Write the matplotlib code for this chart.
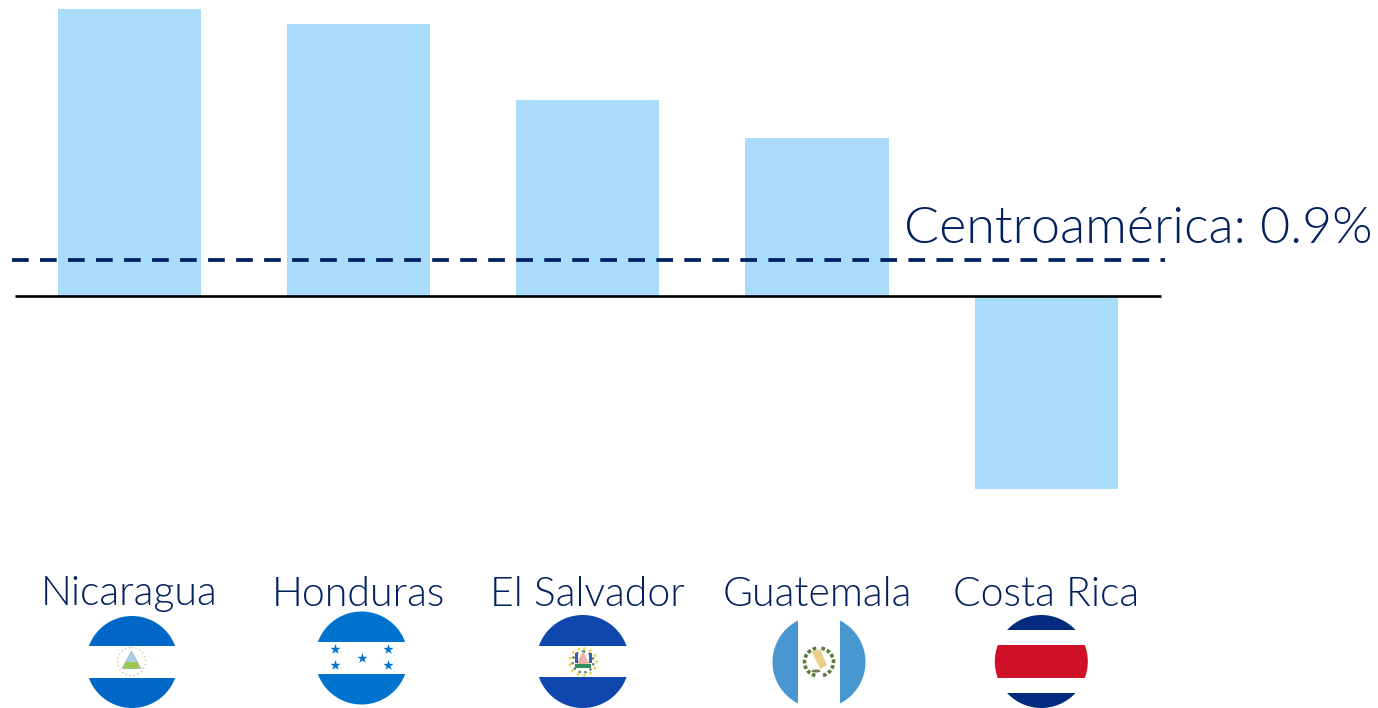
import matplotlib
matplotlib.use("Agg")
import matplotlib.pyplot as plt
from matplotlib.patches import Circle, Rectangle, Polygon, Ellipse, Arc

countries = ["Nicaragua", "Honduras", "El Salvador", "Guatemala", "Costa Rica"]
values = [7.18, 6.8, 4.9, 3.95, -4.82]
regional_label = "Centroamérica: 0.9%"
regional_value = 0.9

plt.rcParams['font.family'] = ['Lato', 'DejaVu Sans']
NAVY = "#002060"
BAR = "#A9DCFB"
W, H = 1378, 708
BASE = 296.0
X0, STEP = 129.2, 229.25
fig = plt.figure(figsize=(W/100, H/100), dpi=100, facecolor="white")
ax = fig.add_axes([0, 0, 1, 1])
ax.set_xlim(-X0/STEP, (W-X0)/STEP)
ax.set_ylim(-(H-BASE)/40, BASE/40)
ax.axis("off")
xs = list(range(len(countries)))
ax.bar(xs, values, width=0.625, color=BAR, linewidth=0, zorder=1)

px = fig.add_axes([0, 0, 1, 1], facecolor="none")
px.set_xlim(0, W); px.set_ylim(H, 0); px.axis("off")
x2d = lambda p: (p - X0)/STEP
ax.plot([x2d(15), x2d(1161)], [0, 0], color="black", lw=1.9, solid_capstyle="butt", zorder=3)
ax.plot([x2d(12), x2d(1165)], [regional_value]*2, color=NAVY, lw=2.7, zorder=4,
        dashes=(4.45, 3.02), dash_capstyle="butt")
ax.text(x2d(904), 1.68, regional_label, fontsize=37.4, fontweight=300, color=NAVY,
        ha="left", va="center")
for i, c in enumerate(countries):
    ax.text(i, -7.45, c, fontsize=29.5, fontweight=300, color=NAVY, ha="center", va="center")

def stripes(cx, cy, r, bands):
    clip = Circle((cx, cy), r, transform=px.transData)
    for (y0, y1, col) in bands:
        p = Rectangle((cx-r-1, y0), 2*r+2, y1-y0, color=col, lw=0, zorder=2)
        px.add_patch(p); p.set_clip_path(clip)

# Nicaragua
stripes(132, 662, 46, [(610, 646, "#0067C6"), (646, 678, "white"), (678, 712, "#0067C6")])
px.add_patch(Circle((131.5, 661.5), 14, fc="white", ec="#DCCFA0", lw=1.1, ls=":", zorder=3))
px.add_patch(Polygon([(131.5, 651), (141, 668.5), (122, 668.5)], fc="#A9CFE2", ec="#9FB4C8", lw=0.5, zorder=4))
px.add_patch(Polygon([(123, 668.5), (126, 662), (137, 662), (140, 668.5)], fc="#9CC64E", lw=0, zorder=5))
# Honduras
stripes(361.5, 658, 46.5, [(610, 642, "#0073CF"), (642, 674, "white"), (674, 706, "#0073CF")])
px.scatter([335, 388, 361.5, 335, 388], [649, 649, 657.5, 665, 665], marker="*", s=60,
           c="#0073CF", linewidths=0, zorder=4)
# El Salvador
stripes(582.7, 661.5, 46.5, [(612, 646, "#0F47AF"), (646, 677, "white"), (677, 710, "#0F47AF")])
px.add_patch(Circle((583, 662), 13.5, fc="white", ec="#F2CF4A", lw=1.8, ls=":", zorder=3))
px.add_patch(Circle((583, 662), 10.5, fc="none", ec="#4E7D55", lw=1.6, ls=":", zorder=3))
px.add_patch(Polygon([(583, 651), (590, 665), (576, 665)], fc="#E8B4A6", lw=0, zorder=4))
px.add_patch(Rectangle((575, 664), 16, 3.5, fc="#2F8F5B", lw=0, zorder=5))
px.add_patch(Rectangle((574.5, 653), 3, 10, fc="#3A5FB0", lw=0, zorder=5))
px.add_patch(Rectangle((588.5, 653), 3, 10, fc="#3A5FB0", lw=0, zorder=5))
# Guatemala
cg = Circle((819, 662), 46.5, transform=px.transData)
for x0, x1 in [(770, 798), (840, 868)]:
    p = Rectangle((x0, 612), x1-x0, 100, color="#4997D0", lw=0, zorder=2)
    px.add_patch(p); p.set_clip_path(cg)
px.add_patch(Arc((819, 662), 29, 28, theta1=105, theta2=260, ec="#5E7A3E", lw=2.6, ls=(0, (1, 0.6)), zorder=3))
px.add_patch(Arc((819, 662), 29, 28, theta1=-80, theta2=75, ec="#5E7A3E", lw=2.6, ls=(0, (1, 0.6)), zorder=3))
px.add_patch(Polygon([(812, 652), (820, 649), (827, 665), (820, 669)], fc="#E8D08A", lw=0, zorder=4))
px.add_patch(Ellipse((816, 671), 9, 3, fc="#7A7A55", lw=0, zorder=4))
# Costa Rica
stripes(1041.3, 661.5, 46.5, [(612, 630, "#002B7F"), (630, 645.3, "white"), (645.3, 677.5, "#CE1126"),
                             (677.5, 692.7, "white"), (692.7, 712, "#002B7F")])
fig.savefig("out.png", dpi=100)
